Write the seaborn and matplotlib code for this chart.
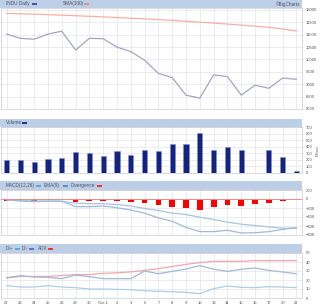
import numpy as np
import pandas as pd
import matplotlib
matplotlib.use("Agg")
import matplotlib.pyplot as plt
import seaborn as sns

sns.set_theme(style="white")
plt.rcParams['font.family'] = ['Liberation Sans', 'DejaVu Sans']

# ---------------- data ----------------
dates = ["22", "23", "24", "25", "26", "29", "30", "Oct 1", "2", "3", "6", "7",
         "8", "9", "10", "13", "14", "15", "16", "17", "20", "21"]
price = [11030, 10855, 10820, 11025, 11145, 10380, 10855, 10840, 10500, 10320,
         9970, 9440, 9265, 8560, 8440, 9380, 9310, 8560, 8960, 8840, 9250, 9200]
sma100 = [11862, 11848, 11830, 11812, 11790, 11768, 11745, 11720, 11695, 11668,
          11640, 11610, 11580, 11545, 11505, 11470, 11430, 11390, 11345, 11300,
          11230, 11150]
volume = [200, 200, 160, 210, 225, 320, 305, 250, 330, 275, 355, 335, 440, 435,
          615, 350, 395, 355, np.nan, 350, 235, 30]
macd = [-20, -45, -60, -45, -45, -170, -170, -155, -195, -245, -315, -420, -495,
        -630, -725, -725, -695, -755, -750, -725, -675, -635]
signal = [-20, -35, -45, -50, -55, -90, -105, -105, -125, -155, -210, -255, -315,
          -345, -405, -455, -515, -560, -590, -620, -650, -650]
divergence = [-37, -45, -37, -30, 0, -60, -37, -37, -52, -67, -90, -127, -172,
              -210, -240, -180, -135, -150, -105, -90, -52, 0]
di_plus = [13.7, 12.2, 12.2, 13.7, 12.2, 11.5, 10.0, 10.0, 9.6, 9.3, 8.1, 7.4,
           7.0, 6.3, 4.8, 10.4, 13.3, 11.9, 11.5, 12.6, 12.2, 11.5]
di_minus = [22.6, 24.8, 23.3, 23.0, 21.5, 25.5, 23.7, 21.5, 21.5, 21.5, 30.0, 27.0,
            29.6, 32.2, 36.0, 31.9, 29.6, 31.9, 33.3, 30.7, 28.9, 27.0]
adx = [22.2, 24.0, 24.0, 24.0, 25.0, 26.0, 26.0, 27.4, 28.0, 29.0, 30.7, 32.6,
       35.0, 37.4, 39.3, 40.7, 40.7, 40.7, 41.5, 41.5, 41.5, 41.5]

price_ticks = [8000, 8500, 9000, 9500, 10000, 10500, 11000, 11500, 12000]
vol_ticks = [0, 100, 200, 300, 400, 500, 600, 700]
macd_ticks = [-800, -600, -400, -200, 0, 200]
dmi_ticks = [0, 10, 20, 30, 40, 50]

idx = np.arange(len(dates))
df = pd.DataFrame({"i": idx, "price": price, "sma": sma100, "vol": volume,
                   "macd": macd, "signal": signal, "div": divergence,
                   "dip": di_plus, "dim": di_minus, "adx": adx})

# ---------------- layout ----------------
W, H = 320, 308
fig = plt.figure(figsize=(W / 100, H / 100), dpi=100)
fig.patch.set_facecolor("white")

def rect(x0, y0, x1, y1):
    return [x0 / W, 1 - y1 / H, (x1 - x0) / W, (y1 - y0) / H]

HDR = "#bccfe6"
GRID = "#e2e4ec"
TXT = "#505060"
FS = 3.0      # axis tick labels
HFS = 3.4     # header texts

def header(y0, y1, items, right_text=None):
    ax = fig.add_axes(rect(0, y0, 302, y1))
    ax.set_facecolor(HDR)
    ax.set_xlim(0, 302)
    ax.set_ylim(0, 1)
    ax.set_xticks([]); ax.set_yticks([])
    for s in ax.spines.values():
        s.set_visible(False)
    for (tx, label, sx, col) in items:
        ax.text(tx, 0.5, label, fontsize=HFS, color=TXT, va="center", ha="left")
        ax.plot([sx, sx + 5], [0.5, 0.5], color=col, lw=1.3, solid_capstyle="butt")
    if right_text:
        ax.text(300, 0.5, right_text, fontsize=HFS, color=TXT, va="center", ha="right")
    return ax

def panel(y0, y1, ylim, ticks):
    ax = fig.add_axes(rect(1, y0, 302, y1))
    ax.set_facecolor("white")
    ax.set_xlim(-0.4, 21.4)
    ax.set_ylim(*ylim)
    ax.set_xticks(idx)
    ax.set_yticks(ticks)
    ax.grid(True, color=GRID, lw=0.5)
    ax.set_axisbelow(True)
    ax.yaxis.tick_right()
    ax.tick_params(axis="y", length=0, labelsize=FS, labelcolor=TXT, pad=2.8)
    ax.tick_params(axis="x", length=0, labelbottom=False)
    for s in ax.spines.values():
        s.set_color("#c8ccd8")
        s.set_linewidth(0.5)
    ax.set_xlabel(""); ax.set_ylabel("")
    return ax

def fix_x(ax):
    ax.set_xlim(-0.4, 21.4)
    ax.set_xticks(idx)
    ax.tick_params(axis="x", length=0, labelbottom=False)
    ax.set_xlabel(""); ax.set_ylabel("")

# Panel 1: price
header(0, 8, [(6, "INDU Daily", 32, "#3a4aa0"), (63, "SMA(100)", 84, "#f08870")],
       right_text="\u00a9BigCharts")
ax1 = panel(8, 109, (8000, 12080), price_ticks)
sns.lineplot(data=df, x="i", y="sma", ax=ax1, color="#f6b0a0", lw=0.9)
sns.lineplot(data=df, x="i", y="price", ax=ax1, color="#a4a4c4", lw=0.9)
fix_x(ax1)

# Panel 2: volume
header(119, 127, [(6, "Volume", 22, "#14237f")])
ax2 = panel(127, 173, (-5, 705), vol_ticks)
dv = df.dropna(subset=["vol"])
sns.barplot(data=dv, x="i", y="vol", ax=ax2, native_scale=True, width=0.38,
            color="#14237f", edgecolor="#8090c8", linewidth=0.4, saturation=1)
fix_x(ax2)
fig.text(317.5 / W, 1 - 150 / H, "Millions", rotation=90, fontsize=2.3,
         color=TXT, ha="center", va="center")

# Panel 3: MACD
header(181, 190, [(6, "MACD(12,26)", 36, "#5aa0d8"), (44, "EMA(9)", 63, "#4a88c0"),
                  (71, "Divergence", 97, "#ff2020")])
ax3 = panel(190, 235, (-800, 200), macd_ticks)
sns.barplot(data=df, x="i", y="div", ax=ax3, native_scale=True, width=0.42,
            color="#ff0000", saturation=1, linewidth=0)
ax3.axhline(0, color="#f08888", lw=0.7, zorder=3)
sns.lineplot(data=df, x="i", y="signal", ax=ax3, color="#a8c4e0", lw=0.9)
sns.lineplot(data=df, x="i", y="macd", ax=ax3, color="#9cbcdc", lw=0.9)
fix_x(ax3)

# Panel 4: DMI
header(244, 253, [(6, "DI+", 15, "#5aa0d8"), (22, "DI-", 29, "#4a78b0"),
                  (38, "ADX", 48, "#ff2020")])
ax4 = panel(253, 298, (0, 50), dmi_ticks)
sns.lineplot(data=df, x="i", y="adx", ax=ax4, color="#f4a4ac", lw=0.9)
sns.lineplot(data=df, x="i", y="dim", ax=ax4, color="#a4b8d4", lw=0.9)
sns.lineplot(data=df, x="i", y="dip", ax=ax4, color="#b0cce6", lw=0.9)
fix_x(ax4)
ax4.set_xticklabels(dates)
ax4.tick_params(axis="x", length=0, labelbottom=True, labelsize=FS,
                labelcolor=TXT, pad=2)

fig.savefig("out.png", dpi=100, facecolor="white")
